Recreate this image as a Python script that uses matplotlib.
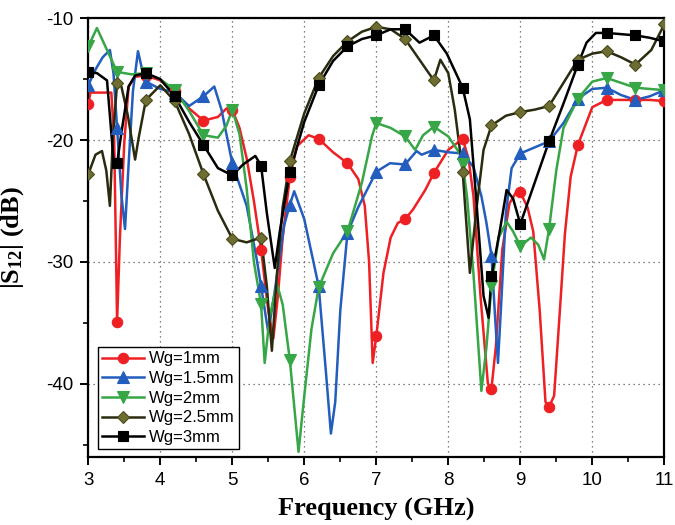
import numpy as np
import matplotlib
matplotlib.use("Agg")
import matplotlib.pyplot as plt
from matplotlib.lines import Line2D
from matplotlib.ticker import MultipleLocator

# S12 vs frequency for several ground widths Wg
freq_1mm = [3.0, 3.03, 3.32, 3.36, 3.4, 3.44, 3.5, 3.56, 3.65, 3.8, 4.0, 4.2, 4.4, 4.6, 4.8, 4.92,
            5.0, 5.1, 5.2, 5.3, 5.4, 5.5, 5.57, 5.63, 5.7, 5.8, 5.9, 6.06, 6.2, 6.4, 6.6, 6.75,
            6.84, 6.9, 6.95, 7.0, 7.1, 7.2, 7.3, 7.4, 7.51, 7.68, 7.8, 8.0, 8.2, 8.28, 8.35,
            8.45, 8.55, 8.6, 8.66, 8.75, 8.85, 8.95, 9.0, 9.1, 9.18, 9.27, 9.35, 9.4, 9.47,
            9.55, 9.62, 9.7, 9.8, 10.0, 10.2, 10.4, 10.6, 10.8, 11.0]
s12_1mm = [-17.0, -16.1, -16.1, -20.0, -34.9, -27.9, -20.2, -15.6, -14.8, -14.7, -15.1, -16.0,
           -17.4, -18.4, -18.1, -17.4, -17.5, -19.0, -21.5, -25.0, -29.0, -34.0, -36.3, -33.0,
           -28.0, -23.0, -20.5, -19.6, -19.9, -21.0, -21.9, -23.2, -25.4, -30.0, -38.3, -36.1,
           -30.9, -28.0, -26.8, -26.5, -25.7, -24.1, -22.7, -20.8, -19.9, -21.5, -24.6, -33.0,
           -40.0, -40.4, -37.0, -29.0, -25.2, -24.2, -24.3, -25.5, -27.5, -34.0, -41.5, -41.9,
           -41.0, -34.0, -27.7, -23.0, -20.4, -17.3, -16.7, -16.7, -16.7, -16.7, -16.8]

freq_15mm = [3.0, 3.1, 3.2, 3.3, 3.35, 3.4, 3.46, 3.51, 3.56, 3.62, 3.69, 3.74, 3.8, 4.0, 4.2,
             4.4, 4.6, 4.75, 4.85, 5.0, 5.2, 5.34, 5.4, 5.5, 5.6, 5.72, 5.8, 5.86, 6.0, 6.2,
             6.3, 6.37, 6.43, 6.5, 6.6, 6.75, 7.0, 7.19, 7.4, 7.56, 7.63, 7.8, 8.0, 8.2, 8.35,
             8.46, 8.53, 8.6, 8.65, 8.69, 8.73, 8.8, 8.88, 9.0, 9.2, 9.4, 9.6, 9.8, 10.0, 10.2,
             10.4, 10.6, 10.8, 11.0]
s12_15mm = [-15.5, -14.2, -13.2, -12.6, -14.5, -19.0, -24.5, -27.3, -22.0, -16.0, -12.7, -14.0,
            -15.2, -15.8, -16.1, -17.2, -16.4, -15.6, -17.5, -21.9, -25.4, -29.8, -32.0, -35.8,
            -32.0, -27.0, -25.3, -24.2, -26.5, -32.0, -39.0, -44.1, -41.5, -34.0, -27.6, -25.5,
            -22.6, -21.9, -22.0, -20.9, -21.2, -20.8, -21.0, -21.1, -22.2, -24.6, -26.8, -29.5,
            -34.5, -38.3, -34.0, -26.0, -22.3, -21.1, -20.6, -20.1, -18.6, -16.6, -15.8, -15.7,
            -16.3, -16.7, -16.4, -15.9]

freq_2mm = [3.0, 3.12, 3.26, 3.4, 3.6, 3.8, 4.0, 4.2, 4.4, 4.6, 4.8, 4.92, 5.0, 5.1, 5.2, 5.3,
            5.4, 5.45, 5.52, 5.62, 5.7, 5.8, 5.92, 6.0, 6.1, 6.2, 6.4, 6.6, 6.8, 6.94, 7.0, 7.2,
            7.4, 7.54, 7.65, 7.8, 8.0, 8.16, 8.2, 8.26, 8.35, 8.46, 8.53, 8.6, 8.7, 8.81, 8.9,
            9.0, 9.15, 9.25, 9.33, 9.4, 9.5, 9.6, 9.8, 10.0, 10.2, 10.4, 10.6, 10.8, 11.0]
s12_2mm = [-12.3, -10.8, -12.6, -14.4, -14.6, -14.5, -15.0, -15.9, -17.6, -19.6, -19.8, -18.8,
           -17.5, -19.5, -24.0, -30.0, -33.5, -38.3, -34.5, -31.8, -33.5, -38.1, -45.6, -41.0,
           -35.5, -32.1, -29.3, -27.5, -23.5, -19.7, -18.6, -19.0, -19.7, -20.8, -19.6, -18.9,
           -19.7, -21.1, -22.0, -24.6, -31.0, -40.6, -37.0, -32.0, -28.0, -26.7, -27.5, -28.7,
           -28.0, -28.6, -29.8, -27.3, -22.5, -19.0, -16.6, -15.2, -14.9, -15.3, -15.7, -15.8,
           -15.9]

freq_25mm = [3.0, 3.1, 3.19, 3.25, 3.3, 3.34, 3.4, 3.46, 3.55, 3.65, 3.7, 3.8, 4.0, 4.2, 4.4,
             4.6, 4.8, 5.0, 5.2, 5.4, 5.48, 5.55, 5.62, 5.7, 5.8, 6.0, 6.2, 6.4, 6.6, 6.8, 7.0,
             7.2, 7.4, 7.6, 7.8, 7.89, 8.0, 8.09, 8.2, 8.3, 8.39, 8.49, 8.6, 8.8, 9.0, 9.2, 9.4,
             9.6, 9.8, 10.0, 10.2, 10.4, 10.6, 10.82, 11.0]
s12_25mm = [-22.8, -21.2, -20.9, -22.5, -25.4, -20.0, -15.3, -15.6, -18.0, -21.6, -19.8, -16.7,
            -15.5, -16.8, -19.5, -22.8, -25.8, -28.1, -28.4, -28.0, -32.0, -37.3, -31.0, -25.5,
            -21.7, -17.8, -14.9, -13.1, -11.9, -11.1, -10.7, -10.9, -11.7, -13.4, -15.1, -13.4,
            -14.5, -17.5, -22.6, -30.9, -25.7, -20.8, -18.8, -18.0, -17.7, -17.5, -17.2, -15.3,
            -13.4, -12.9, -12.7, -13.2, -13.8, -12.6, -10.5]

freq_3mm = [3.0, 3.12, 3.26, 3.35, 3.4, 3.46, 3.56, 3.65, 3.8, 4.0, 4.2, 4.4, 4.6, 4.8, 5.0,
            5.15, 5.32, 5.4, 5.48, 5.59, 5.66, 5.8, 6.0, 6.2, 6.4, 6.6, 6.8, 7.0, 7.2, 7.4, 7.6,
            7.8, 7.98, 8.2, 8.3, 8.39, 8.49, 8.56, 8.6, 8.72, 8.81, 8.9, 9.0, 9.2, 9.4, 9.6,
            9.8, 9.92, 10.05, 10.2, 10.4, 10.6, 10.8, 11.0]
s12_3mm = [-14.4, -14.5, -15.1, -21.6, -21.9, -19.4, -15.6, -14.7, -14.5, -15.0, -16.4, -18.5,
           -20.4, -22.3, -22.9, -22.0, -21.3, -22.1, -26.0, -30.5, -27.5, -22.6, -18.5, -15.5,
           -13.5, -12.3, -11.7, -11.4, -10.9, -10.9, -12.0, -11.4, -12.9, -15.7, -18.3, -25.0,
           -32.8, -34.6, -31.2, -27.3, -24.1, -24.8, -26.9, -23.5, -20.1, -17.0, -13.8, -12.0,
           -11.2, -11.2, -11.3, -11.4, -11.6, -11.9]

labels = ["Wg=1mm", "Wg=1.5mm", "Wg=2mm", "Wg=2.5mm", "Wg=3mm"]

series = [
    (freq_1mm, s12_1mm, "#ee2024", "#ee2024", "#ee2024", "o", 7.5),
    (freq_15mm, s12_15mm, "#235dbd", "#235dbd", "#235dbd", "^", 8),
    (freq_2mm, s12_2mm, "#36a646", "#36a646", "#36a646", "v", 8),
    (freq_25mm, s12_25mm, "#2b2b10", "#6e6e32", "#4a4a1c", "D", 6.5),
    (freq_3mm, s12_3mm, "#000000", "#000000", "#000000", "s", 7),
]

plt.rcParams["axes.unicode_minus"] = False
plt.rcParams["mathtext.fontset"] = "custom"
plt.rcParams["mathtext.bf"] = "Liberation Serif:bold"
plt.rcParams["mathtext.rm"] = "Liberation Serif:bold"
plt.rcParams["mathtext.default"] = "bf"

fig = plt.figure(figsize=(6.75, 5.25), dpi=100, facecolor="white")
ax = fig.add_axes([0.1308, 0.1301, 0.8533, 0.8350])

handles = []
for (f, s, lc, mfc, mec, mk, ms), lab in zip(series, labels):
    f = np.array(f)
    s = np.array(s)
    # symbols sit every 0.4 GHz starting at 3 GHz
    step = (f - 3.0) / 0.4
    on_grid = np.isclose(step, np.round(step))
    ax.plot(f, s, color=lc, lw=1.8, solid_joinstyle="round", zorder=2)
    ax.plot(f[on_grid], s[on_grid], ls="none", marker=mk, ms=ms,
            mfc=mfc, mec=mec, mew=0.8, zorder=3)
    handles.append(Line2D([], [], color=lc, lw=1.8, marker=mk, ms=ms,
                          mfc=mfc, mec=mec, mew=0.8))

ax.set_xlim(3, 11)
ax.set_ylim(-46, -10)
ax.xaxis.set_major_locator(MultipleLocator(1))
ax.xaxis.set_minor_locator(MultipleLocator(0.5))
ax.yaxis.set_major_locator(MultipleLocator(10))
ax.yaxis.set_minor_locator(MultipleLocator(5))

ax.grid(True, which="major", linestyle=(0, (1, 3)), color="0.35", linewidth=0.9)
ax.set_axisbelow(True)

for sp in ax.spines.values():
    sp.set_linewidth(1.6)

ax.tick_params(which="major", direction="out", length=6, width=1.4, pad=5,
               labelsize=13.5, top=False, right=False)
ax.tick_params(which="minor", direction="out", length=3.5, width=1.2,
               top=False, right=False)
for t in ax.get_xticklabels() + ax.get_yticklabels():
    t.set_fontfamily("Liberation Sans")

ax.set_xlabel("Frequency (GHz)", fontfamily="Liberation Serif", fontweight="bold",
              fontsize=19)
ax.set_ylabel(r"|S$_{12}$| (dB)", fontfamily="Liberation Serif", fontweight="bold",
              fontsize=19)
ax.xaxis.set_label_coords(0.5, -0.093)
ax.yaxis.set_label_coords(-0.108, 0.5)

leg = ax.legend(handles, labels, loc="lower left", bbox_to_anchor=(0.017, 0.017),
                prop={"family": "Liberation Sans", "size": 12}, frameon=True,
                fancybox=False, edgecolor="black", framealpha=1, numpoints=1,
                handlelength=2.5, handletextpad=0.3, labelspacing=0.28,
                borderpad=0.25, borderaxespad=0)
leg.get_frame().set_linewidth(1.0)

fig.savefig("out.png", dpi=100, facecolor="white")
